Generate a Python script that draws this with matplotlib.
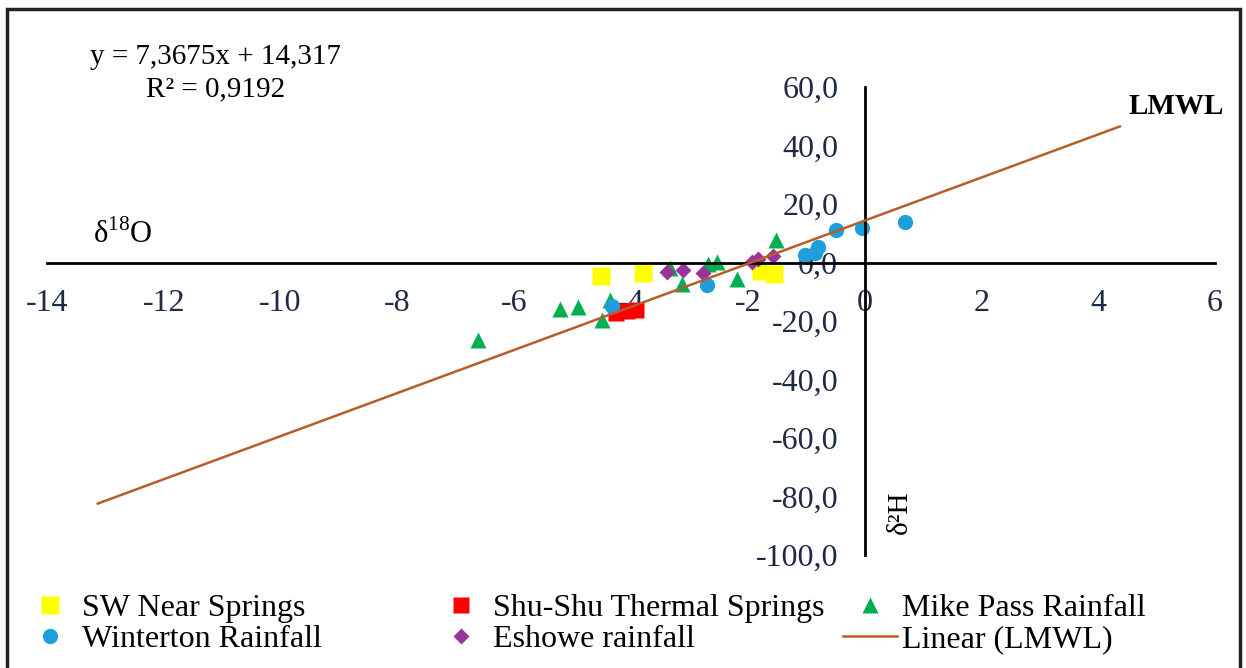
import matplotlib.pyplot as plt
from matplotlib.patches import Rectangle

plt.rcParams['font.family'] = ['Liberation Serif', 'DejaVu Serif']
plt.rcParams['mathtext.fontset'] = 'custom'
plt.rcParams['mathtext.rm'] = 'Liberation Serif'
plt.rcParams['axes.unicode_minus'] = False

# d18O (x) and d2H (y) per sample group
sw_x = [-4.51, -3.80, -1.77, -1.55]
sw_y = [-4.6, -3.6, -2.9, -3.9]
shu_x = [-4.26, -4.07, -3.91]
shu_y = [-17.3, -16.6, -16.2]
mike_x = [-6.62, -5.22, -4.91, -4.50, -4.36, -3.33, -3.13, -2.68, -2.53, -2.18, -1.52]
mike_y = [-26.5, -15.9, -15.2, -19.7, -12.8, -1.9, -7.4, -0.5, 0.2, -5.6, 7.7]
wint_x = [-4.32, -2.70, -1.02, -0.80, -0.85, -0.49, -0.04, 0.69]
wint_y = [-14.9, -7.7, 2.6, 5.3, 3.2, 11.1, 11.8, 13.8]
esh_x = [-3.38, -3.11, -2.77, -1.93, -1.82, -1.57]
esh_y = [-3.2, -2.6, -3.6, 0.2, 1.2, 2.2]

# LMWL regression shown on the chart
slope, intercept = 7.3675, 14.317
trend_x = [-13.13, 4.37]
trend_y = [slope * v + intercept for v in trend_x]

x_ticks = [-14, -12, -10, -8, -6, -4, -2, 0, 2, 4, 6]
y_ticks = [60, 40, 20, 0, -20, -40, -60, -80, -100]

W, H = 1246, 668
fig = plt.figure(figsize=(W / 100, H / 100), dpi=100)
ax = fig.add_axes([47 / W, 113 / H, 1168 / W, 468 / H])

h_sw, = ax.plot(sw_x, sw_y, 's', color='#FFFF00', ms=13, mec='none', label='SW Near Springs')
h_shu, = ax.plot(shu_x, shu_y, 's', color='#FF0000', ms=11, mec='none', label='Shu-Shu Thermal Springs')
h_mike, = ax.plot(mike_x, mike_y, '^', color='#00B050', ms=11.5, mec='none', label='Mike Pass Rainfall')
h_wint, = ax.plot(wint_x, wint_y, 'o', color='#1E9FDC', ms=11, mec='none', label='Winterton Rainfall')
h_esh, = ax.plot(esh_x, esh_y, 'D', color='#993399', ms=7.7, mec='none', label='Eshowe rainfall')
h_lin, = ax.plot(trend_x, trend_y, '-', color='#B85C2C', lw=1.8, zorder=3, label='Linear (LMWL)')

ax.set_xlim(-14, 6)
ax.set_ylim(-100, 60)
for s in ['top', 'right']:
    ax.spines[s].set_visible(False)
ax.spines['left'].set_position(('data', 0))
ax.spines['bottom'].set_position(('data', 0))
ax.spines['left'].set_linewidth(2)
ax.spines['bottom'].set_linewidth(2)

ax.set_xticks(x_ticks)
ax.set_xticklabels([str(v) for v in x_ticks])
ax.set_yticks(y_ticks)
ax.set_yticklabels([f'{v:.1f}'.replace('.', ',') for v in y_ticks])
ax.tick_params(length=0, labelsize=23, labelcolor='#1F2A44')
ax.tick_params(axis='x', pad=19)
ax.tick_params(axis='y', pad=19)
ax.patch.set_visible(False)

fig.text(216 / W, 1 - 57 / H, 'y = 7,3675x + 14,317', ha='center', va='center', fontsize=21)
fig.text(216 / W, 1 - 89 / H, 'R² = 0,9192', ha='center', va='center', fontsize=21)
fig.text(93 / W, 1 - 235 / H, r'δ$^{18}$O', ha='left', va='center', fontsize=22)
fig.text(1176 / W, 1 - 106 / H, 'LMWL', ha='center', va='center', fontsize=21, fontweight='bold')
fig.text(900 / W, 1 - 512 / H, 'δ²H', ha='center', va='center', fontsize=21, rotation=90)

# Excel-style legend: three equal-width columns
cols = [([h_sw, h_wint], 23), ([h_shu, h_esh], 434), ([h_mike, h_lin], 843)]
for hs, x0 in cols:
    fig.legend(handles=hs, loc='upper left', bbox_to_anchor=(x0 / W, 1 - 594 / H),
               frameon=False, fontsize=23, borderpad=0, borderaxespad=0,
               handlelength=1.7, handletextpad=0.15, labelspacing=0.04)

fig.add_artist(Rectangle((7 / W, -0.1), 1233 / W, 1.1 - 9 / H, transform=fig.transFigure,
                         fill=False, lw=2.5, ec='#222222'))

fig.savefig('out.png', dpi=100)
